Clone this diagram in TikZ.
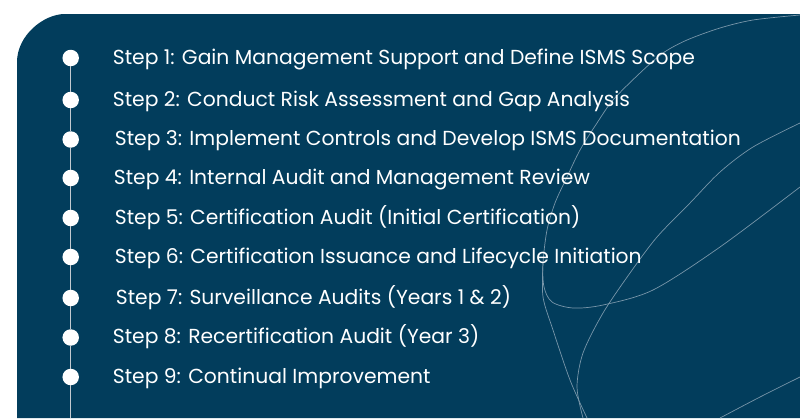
\documentclass[tikz,border=0pt]{standalone}
\usepackage{fontspec}
\setmainfont{Poppins}
\usetikzlibrary{positioning}
\definecolor{panelblue}{HTML}{023D5C}
\definecolor{swirl}{HTML}{7896A9}
\definecolor{railgray}{HTML}{C3CAD0}

\begin{document}
\begin{tikzpicture}[x=1pt, y=-1pt,
    dot/.style={circle, fill=white, inner sep=0pt, minimum size=16.5pt},
    steptext/.style={anchor=base west, inner sep=0pt, text=white, font=\fontsize{20.3}{24}\selectfont},
    swirlline/.style={draw=swirl, line width=0.7pt},
    rail/.style={draw=railgray, line width=1.3pt}]
  \useasboundingbox (0,0) rectangle (800,418);

  % panel
  \fill[panelblue] (17,418) -- (17,62) .. controls (17,35.5) and (43.5,14) .. (65,14)
    -- (800,14) -- (800,418) -- cycle;

  % swirls
  \path[swirlline] plot[smooth] coordinates {(800,15) (753,20) (720,28) (687,40) (663,53)
    (640,73) (613,100) (597,123) (580,150) (567,177) (555,203) (547,230) (543,263)
    (544,287) (552,302) (573,308) (603,305) (653,290) (720,247) (800,187)};
  \path[swirlline] plot[smooth] coordinates {(543,263) (543,297) (553,330) (570,380) (587,418)};
  \path[swirlline] plot[smooth] coordinates {(800,123) (753,147) (720,172) (690,203)
    (657,237) (630,273) (603,313) (583,353) (577,387) (583,418)};
  \path[swirlline] plot[smooth] coordinates {(800,377) (760,397) (720,418)};

  \node[dot] (D1) at (70.7,58) {};
  \node[dot] (D2) at (70.7,100) {};
  \node[dot] (D3) at (70.7,139.5) {};
  \node[dot] (D4) at (70.7,178) {};
  \node[dot] (D5) at (70.7,218) {};
  \node[dot] (D6) at (70.7,257) {};
  \node[dot] (D7) at (70.7,298) {};
  \node[dot] (D8) at (70.7,337.5) {};
  \node[dot] (D9) at (70.7,377) {};
  \coordinate (railend) at (70.7,418);

  \path[rail] (D1) -- (D2) -- (D3) -- (D4) -- (D5) -- (D6) -- (D7) -- (D8) -- (D9) -- (railend);

  \node[steptext] (T1) at ([xshift=42pt,yshift=-6pt]D1.center) {Step 1: Gain Management Support and Define ISMS Scope};
  \node[steptext] (T2) at ([xshift=42pt,yshift=-6pt]D2.center) {Step 2: Conduct Risk Assessment and Gap Analysis};
  \node[steptext] (T3) at ([xshift=44pt,yshift=-6pt]D3.center) {Step 3: Implement Controls and Develop ISMS Documentation};
  \node[steptext] (T4) at ([xshift=43pt,yshift=-6pt]D4.center) {Step 4: Internal Audit and Management Review};
  \node[steptext] (T5) at ([xshift=44pt,yshift=-6pt]D5.center) {Step 5: Certification Audit (Initial Certification)};
  \node[steptext] (T6) at ([xshift=44pt,yshift=-6pt]D6.center) {Step 6: Certification Issuance and Lifecycle Initiation};
  \node[steptext] (T7) at ([xshift=45pt,yshift=-6pt]D7.center) {Step 7: Surveillance Audits (Years 1 \& 2)};
  \node[steptext] (T8) at ([xshift=42pt,yshift=-6pt]D8.center) {Step 8: Recertification Audit (Year 3)};
  \node[steptext] (T9) at ([xshift=42pt,yshift=-6pt]D9.center) {Step 9: Continual Improvement};
\end{tikzpicture}
\end{document}
